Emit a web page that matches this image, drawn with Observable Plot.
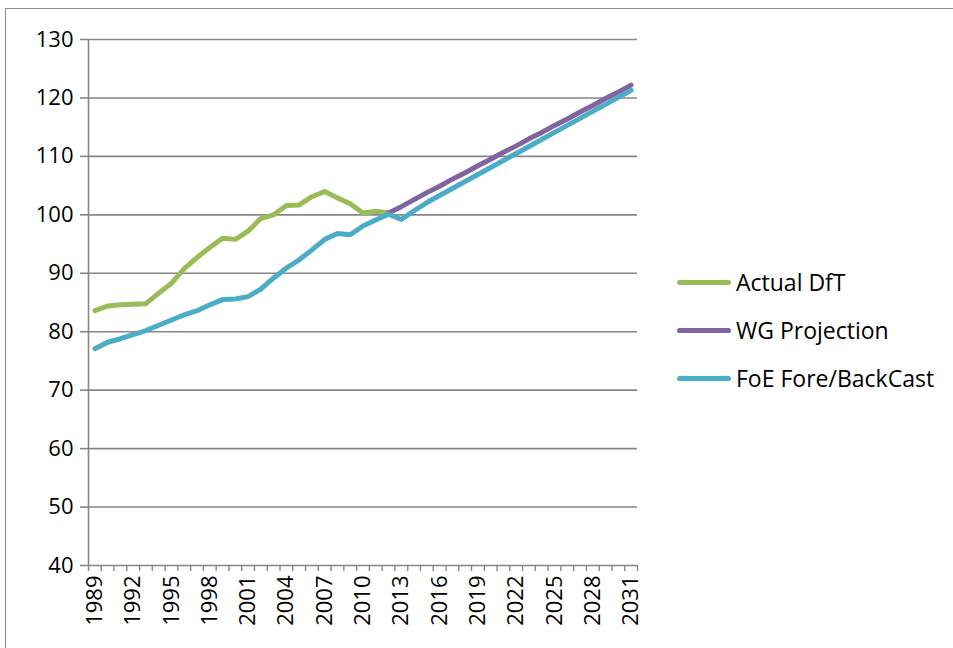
<!DOCTYPE html>
<html>
<head>
<meta charset="utf-8">
<script src="https://cdn.jsdelivr.net/npm/d3@7"></script>
<script src="https://cdn.jsdelivr.net/npm/@observablehq/plot@0.6"></script>
<style>
  html, body { margin: 0; padding: 0; background: #fff; overflow: hidden; }
  #wrap { position: relative; width: 953px; height: 648px; font-family: "Open Sans", sans-serif; }
  #frame { position: absolute; left: 5px; top: 8px; width: 980px; height: 680px; border: 1.5px solid #8c8c8c; box-sizing: border-box; }
  #chart { position: absolute; left: 0; top: 0; }
  #legend { position: absolute; left: 677px; top: 258px; }
  .item { display: flex; align-items: center; height: 48px; font-size: 23px; color: #000; }
  .swatch { width: 54px; height: 5px; border-radius: 3px; margin-right: 5px; }
</style>
</head>
<body>
<div id="wrap">
  <div id="frame"></div>
  <div id="chart"></div>
  <div id="legend"></div>
</div>
<script>
const years = [1989,1990,1991,1992,1993,1994,1995,1996,1997,1998,1999,2000,2001,2002,2003,2004,2005,2006,2007,2008,2009,2010,2011,2012,2013,2014,2015,2016,2017,2018,2019,2020,2021,2022,2023,2024,2025,2026,2027,2028,2029,2030,2031];
const labelYears = [1989,1992,1995,1998,2001,2004,2007,2010,2013,2016,2019,2022,2025,2028,2031];
const yTicks = [40,50,60,70,80,90,100,110,120,130];

const seriesNames = ["Actual DfT", "WG Projection", "FoE Fore/BackCast"];
const seriesColors = ["#9BBB59", "#8064A2", "#4BACC6"];

// Actual DfT: 1989–2012
const actualYears = years.slice(0, 24);
const actualDfT = [83.6,84.4,84.6,84.7,84.8,86.6,88.3,90.8,92.7,94.4,96.0,95.8,97.2,99.4,100.0,101.6,101.7,103.1,104.0,102.9,101.9,100.3,100.6,100.3];

// WG Projection: 2012–2031
const wgYears = years.slice(23);
const wgProjection = [100.3,101.4,102.6,103.8,104.9,106.1,107.2,108.4,109.5,110.7,111.8,113.0,114.1,115.3,116.4,117.6,118.7,119.9,121.0,122.2];

// FoE Fore/BackCast: 1989–2031
const foeCast = [77.1,78.2,78.8,79.5,80.2,81.1,82.0,82.9,83.6,84.6,85.5,85.6,86.0,87.3,89.2,90.9,92.3,94.0,95.8,96.8,96.6,98.1,99.1,100.1,99.2,100.7,102.1,103.3,104.5,105.7,106.9,108.1,109.3,110.5,111.7,112.9,114.1,115.3,116.5,117.7,118.9,120.1,121.3];

const data = [
  ...actualYears.map((y, i) => ({year: y, value: actualDfT[i], series: seriesNames[0]})),
  ...wgYears.map((y, i) => ({year: y, value: wgProjection[i], series: seriesNames[1]})),
  ...years.map((y, i) => ({year: y, value: foeCast[i], series: seriesNames[2]}))
];

const boundaries = [years[0] - 0.5, ...years.map(y => y + 0.5)];
const gray = "#868686";

const chart = Plot.plot({
  width: 953,
  height: 648,
  marginLeft: 88,
  marginRight: 316,
  marginTop: 39,
  marginBottom: 83,
  style: {fontFamily: "'Open Sans', sans-serif", fontSize: "22px", color: "#000", background: "transparent"},
  x: {type: "linear", domain: [years[0] - 0.5, years[years.length - 1] + 0.5]},
  y: {domain: [40, 130]},
  color: {domain: seriesNames, range: seriesColors},
  marks: [
    Plot.gridY(yTicks, {stroke: gray, strokeOpacity: 1, strokeWidth: 1.6}),
    Plot.ruleX([years[0] - 0.5], {stroke: gray, strokeWidth: 1.6}),
    Plot.axisY(yTicks, {tickSize: 8, tickPadding: 7, stroke: gray, strokeWidth: 1.6, label: null, fontSize: 22, fill: "#000"}),
    Plot.axisX(boundaries, {tickSize: 6, tickFormat: () => "", stroke: gray, strokeWidth: 1.4, label: null}),
    Plot.axisX(labelYears, {tickSize: 0, tickPadding: 10, tickRotate: -90, tickFormat: d => String(d), label: null, fontSize: 22, fill: "#000"}),
    Plot.line(data, {x: "year", y: "value", z: "series", stroke: "series", strokeWidth: 5, strokeLinejoin: "round", strokeLinecap: "round"})
  ]
});
document.getElementById("chart").appendChild(chart);

const legend = document.getElementById("legend");
seriesNames.forEach((name, i) => {
  const item = document.createElement("div");
  item.className = "item";
  const sw = document.createElement("div");
  sw.className = "swatch";
  sw.style.background = seriesColors[i];
  const t = document.createElement("span");
  t.textContent = name;
  item.appendChild(sw);
  item.appendChild(t);
  legend.appendChild(item);
});
</script>
</body>
</html>
